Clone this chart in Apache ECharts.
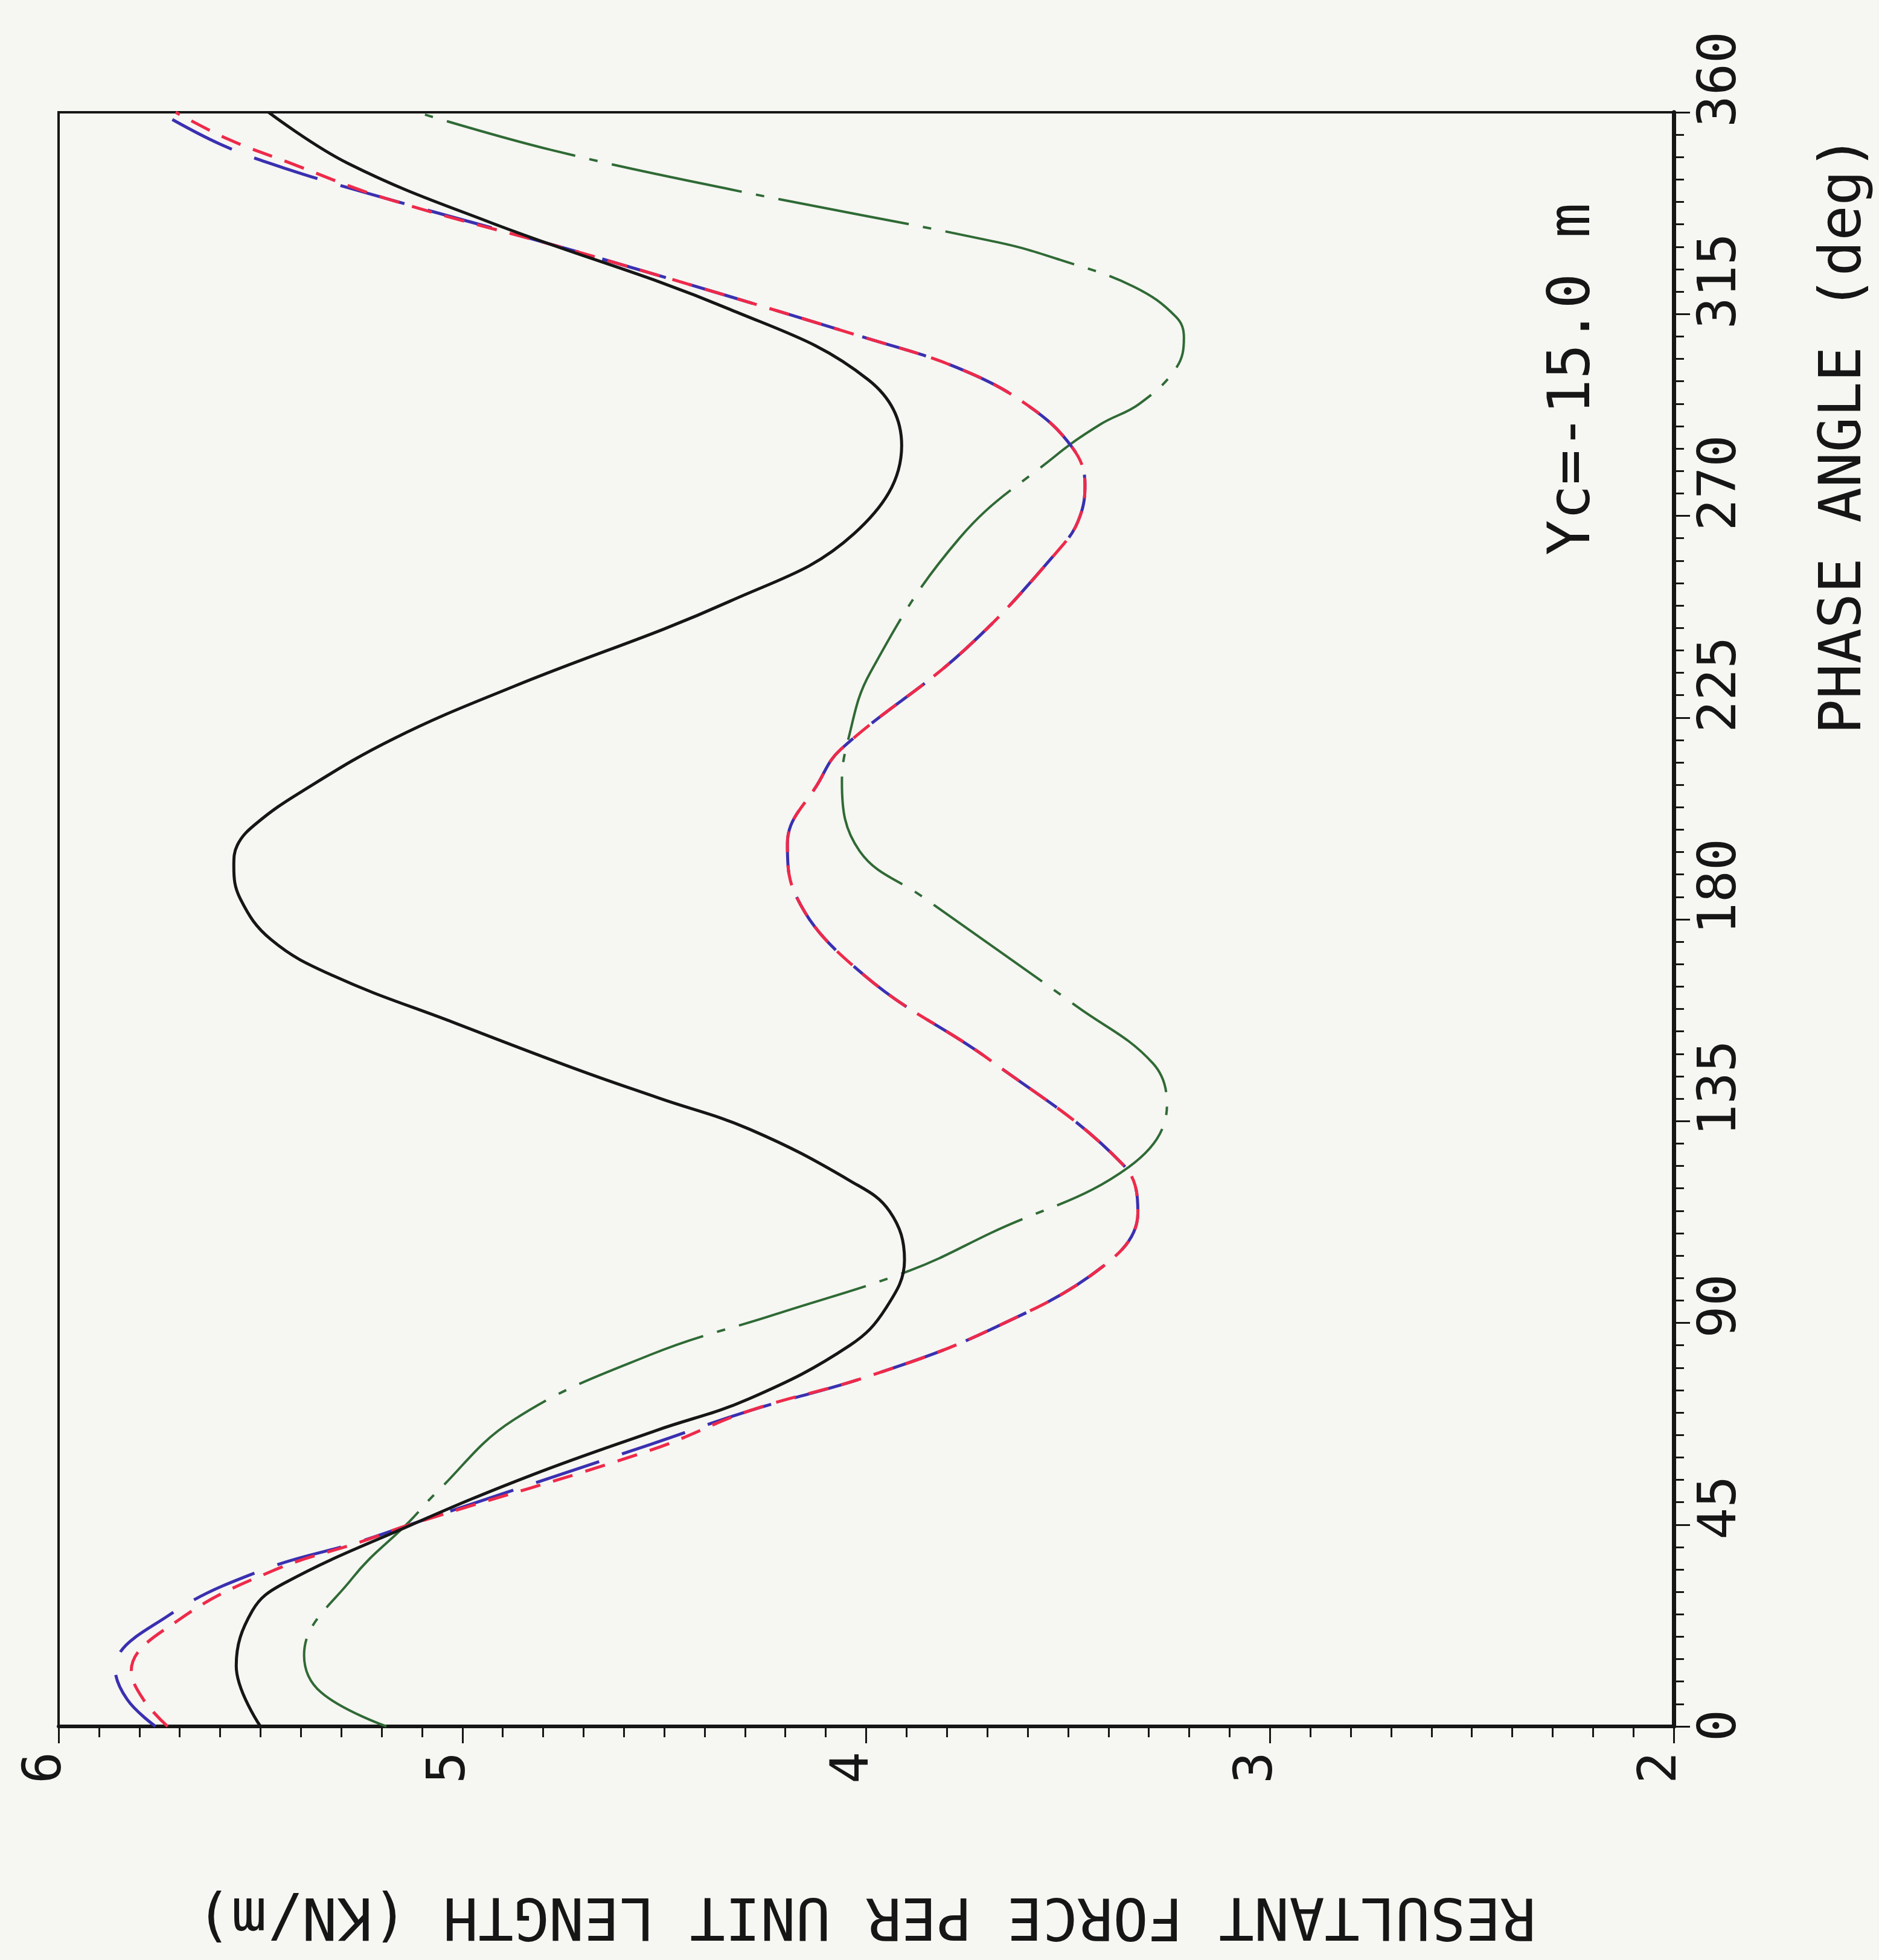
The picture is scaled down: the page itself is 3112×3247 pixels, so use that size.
<!DOCTYPE html>
<html>
<head>
<meta charset="utf-8">
<script src="https://cdn.jsdelivr.net/npm/echarts@6/dist/echarts.min.js"></script>
<style>
html,body{margin:0;padding:0;background:#f6f6f2;}
#c{width:3112px;height:3247px;}
</style>
</head>
<body>
<div id="c"></div>
<script>
// ---- data ----
const forceTicks = [2, 3, 4, 5, 6];
const phaseTicks = [0, 45, 90, 135, 180, 225, 270, 315, 360];

const blackPhase = [0, 13.5, 25.8, 31.8, 44.8, 56, 66, 73.1, 85, 93.3, 104, 114.9, 121.7, 133.2, 140.1, 146.5, 156.9, 167.5, 175.5, 184.6, 191.9, 196.6, 201.4, 208.5, 220.3, 231.9, 251, 266, 285.7, 300.3, 316, 335.4, 348.6, 360];
const blackForce = [5.50, 5.56, 5.52, 5.444, 5.13, 4.83, 4.52, 4.289, 4.04, 3.951, 3.905, 3.942, 4.04, 4.289, 4.512, 4.715, 5.019, 5.322, 5.474, 5.55, 5.566, 5.557, 5.51, 5.398, 5.17, 4.874, 4.336, 4.03, 3.912, 3.994, 4.336, 4.93, 5.283, 5.48];

const bluePhase = [0, 6, 13, 24.6, 34.7, 41.2, 45, 62.9, 70.4, 78.2, 88.6, 103.2, 114.6, 125.2, 148.4, 167.4, 185.3, 196.9, 210.8, 217.9, 240.2, 263.8, 270, 277, 285.3, 294.9, 302.8, 309.5, 327.9, 340.8, 347.4, 352.9, 360];
const blueForce = [5.76, 5.83, 5.86, 5.73, 5.50, 5.255, 5.13, 4.534, 4.289, 3.99, 3.69, 3.405, 3.327, 3.363, 3.69, 4.003, 4.174, 4.195, 4.116, 4.063, 3.755, 3.51, 3.47, 3.458, 3.49, 3.604, 3.768, 3.994, 4.677, 5.19, 5.436, 5.60, 5.75];

const redPhase = [0, 6, 12.4, 23.9, 34.7, 41.2, 45, 61.6, 70.4, 78.2, 88.6, 103.2, 114.6, 125.2, 148.4, 167.4, 185.3, 196.9, 210.8, 217.9, 240.2, 263.8, 270, 277, 285.3, 294.9, 302.8, 309.5, 327.9, 340.8, 349, 354, 360];
const redForce = [5.73, 5.79, 5.82, 5.70, 5.47, 5.25, 5.13, 4.534, 4.289, 3.99, 3.69, 3.405, 3.327, 3.363, 3.69, 4.003, 4.174, 4.195, 4.116, 4.063, 3.755, 3.51, 3.47, 3.458, 3.49, 3.604, 3.768, 3.994, 4.677, 5.19, 5.436, 5.58, 5.71];

const greenPhase = [0, 7.6, 15.9, 33, 45.8, 52.1, 68.3, 82.9, 91.9, 101.7, 110.1, 124.8, 138.5, 147.9, 160.5, 185, 195.2, 210.6, 219.9, 235, 265.1, 283.1, 290.4, 295, 303, 309.7, 314.3, 321.1, 327.1, 331, 342.8, 351.6, 360];
const greenForce = [5.188, 5.35, 5.392, 5.273, 5.13, 5.065, 4.874, 4.534, 4.225, 3.891, 3.69, 3.349, 3.255, 3.29, 3.477, 3.86, 4.016, 4.06, 4.045, 3.99, 3.768, 3.535, 3.42, 3.323, 3.232, 3.213, 3.232, 3.337, 3.52, 3.674, 4.336, 4.78, 5.112];

const xTitle = 'RESULTANT FORCE PER UNIT LENGTH (KN/m)';
const yTitle = 'PHASE ANGLE (deg)';
const note = 'Yc=-15.0 m';

// ---- chart ----
const FONT = "'DejaVu Sans Mono', 'Liberation Mono', monospace";
const INK = '#161616';
function pairs(f, p) { return f.map((v, i) => [v, p[i]]); }

const chart = echarts.init(document.getElementById('c'), null, {renderer: 'canvas'});
chart.setOption({
  backgroundColor: '#f6f6f2',
  animation: false,
  grid: {left: 97, right: 324, top: 186, bottom: 387, show: true, borderColor: INK, borderWidth: 4, backgroundColor: 'transparent'},
  xAxis: {
    type: 'value', min: forceTicks[0], max: forceTicks[forceTicks.length - 1], interval: forceTicks[1] - forceTicks[0],
    inverse: true, position: 'bottom',
    axisLine: {show: true, onZero: false, lineStyle: {color: INK, width: 6}},
    axisTick: {show: true, inside: false, length: 28, lineStyle: {color: INK, width: 3}},
    minorTick: {show: true, splitNumber: 10, length: 18, lineStyle: {color: INK, width: 3}},
    splitLine: {show: false}, minorSplitLine: {show: false},
    axisLabel: {rotate: 90, margin: 42, fontSize: 88, fontFamily: FONT, color: INK, verticalAlign: 'top', padding: [-64, 0, 0, 0]},
    name: xTitle, nameLocation: 'middle', nameRotate: 180, nameGap: 262,
    nameTextStyle: {fontSize: 97, fontFamily: FONT, color: INK}
  },
  yAxis: {
    type: 'value', min: phaseTicks[0], max: phaseTicks[phaseTicks.length - 1], interval: phaseTicks[1] - phaseTicks[0],
    position: 'right',
    axisLine: {show: true, onZero: false, lineStyle: {color: INK, width: 7}},
    axisTick: {show: true, inside: false, length: 27, lineStyle: {color: INK, width: 3}},
    minorTick: {show: true, splitNumber: 9, length: 17, lineStyle: {color: INK, width: 3}},
    splitLine: {show: false}, minorSplitLine: {show: false},
    axisLabel: {rotate: 90, margin: 35, fontSize: 88, fontFamily: FONT, color: INK, align: 'left', padding: [0, 0, 0, -25]},
    name: yTitle, nameLocation: 'middle', nameRotate: 90, nameGap: 235,
    nameTextStyle: {fontSize: 97, fontFamily: FONT, color: INK, padding: [0, 0, 0, 1606]}
  },
  graphic: [{
    type: 'text', x: 2607, y: 628, rotation: Math.PI / 2,
    style: {text: note, font: "97px 'DejaVu Sans Mono'", fill: INK, align: 'center', verticalAlign: 'middle'}
  }],
  series: [
    {name: 'green', type: 'line', data: pairs(greenForce, greenPhase), smooth: 0.4, showSymbol: false,
     lineStyle: {color: '#2f6a35', width: 4, type: [220, 24, 14, 24]}},
    {name: 'blue', type: 'line', data: pairs(blueForce, bluePhase), smooth: 0.4, showSymbol: false,
     lineStyle: {color: '#3a30b0', width: 5, type: [110, 40]}},
    {name: 'red', type: 'line', data: pairs(redForce, redPhase), smooth: 0.4, showSymbol: false,
     lineStyle: {color: '#ee2a4a', width: 5, type: [34, 22]}},
    {name: 'black', type: 'line', data: pairs(blackForce, blackPhase), smooth: 0.4, showSymbol: false,
     lineStyle: {color: INK, width: 5}}
  ]
});
</script>
</body>
</html>
